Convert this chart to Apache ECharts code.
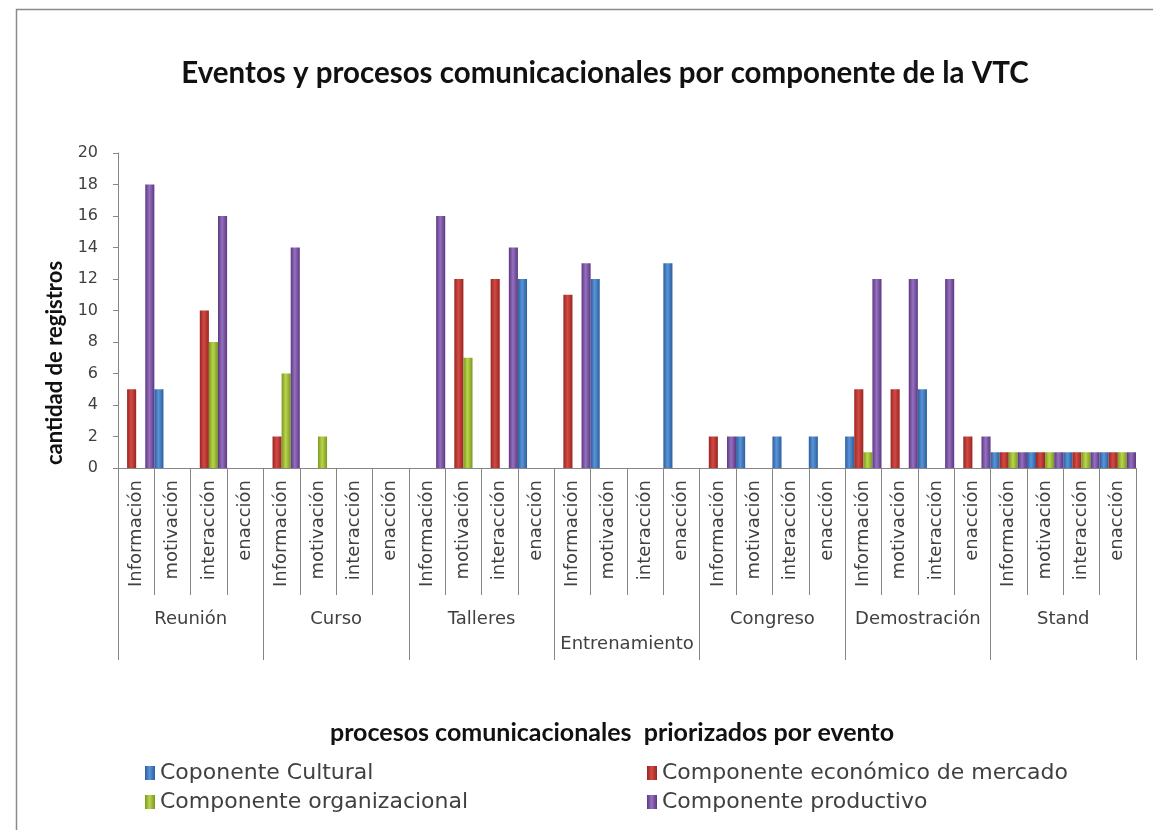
<!DOCTYPE html>
<html>
<head>
<meta charset="utf-8">
<script src="https://cdn.jsdelivr.net/npm/echarts@6/dist/echarts.min.js"></script>
<style>html,body{margin:0;padding:0;background:#fff}#c{width:1153px;height:830px}</style>
</head>
<body>
<div id="c"></div>
<script>
// ---- data ----
var eventos = ['Reunión', 'Curso', 'Talleres', 'Entrenamiento', 'Congreso', 'Demostración', 'Stand'];
var procesos = ['Información', 'motivación', 'interacción', 'enacción'];
var yTicks = [0, 2, 4, 6, 8, 10, 12, 14, 16, 18, 20];
var seriesNames = ['Coponente Cultural', 'Componente económico de mercado', 'Componente organizacional', 'Componente productivo'];
// 28 values each: 7 events x 4 processes
var cultural = [0,5,0,0, 0,0,0,0, 0,0,0,12, 0,12,0,13, 0,2,2,2, 2,0,5,0, 1,1,1,1];
var economico = [5,0,10,0, 2,0,0,0, 0,12,12,0, 11,0,0,0, 2,0,0,0, 5,5,0,2, 1,1,1,1];
var organizacional = [0,0,8,0, 6,2,0,0, 0,7,0,0, 0,0,0,0, 0,0,0,0, 1,0,0,0, 1,1,1,1];
var productivo = [18,0,16,0, 14,0,0,0, 16,0,14,0, 13,0,0,0, 2,0,0,0, 12,12,12,2, 1,1,1,1];

var categories = [];
eventos.forEach(function () { procesos.forEach(function (p) { categories.push(p); }); });

function grad(edge, mid) {
  return new echarts.graphic.LinearGradient(0, 0, 1, 0, [
    {offset: 0, color: edge}, {offset: 0.45, color: mid}, {offset: 1, color: edge}
  ]);
}
var styles = [
  grad('#2b5e9e', '#5a94d6'),
  grad('#9a2521', '#d14a44'),
  grad('#7a9820', '#b9d54c'),
  grad('#5c3883', '#9470be')
];
var seriesData = [cultural, economico, organizacional, productivo];

var chart = echarts.init(document.getElementById('c'), null, {renderer: 'canvas'});
var labelColor = '#404040';
var axisColor = '#868686';
var legendText = {fontFamily: 'DejaVu Sans', fontSize: 22, color: labelColor, padding: [0, 0, 0, 0]};

chart.setOption({
  animation: false,
  graphic: [
    {type: 'rect', shape: {x: 16.5, y: 9.5, width: 1160, height: 840}, style: {fill: 'none', stroke: '#8a8a8a', lineWidth: 1.5}, silent: true},
    {type: 'text', x: 605, y: 73, style: {text: 'Eventos y procesos comunicacionales por componente de la VTC', font: 'bold 29.5px Lato', fill: '#111', textAlign: 'center', textVerticalAlign: 'middle'}},
    {type: 'text', x: 55, y: 363, rotation: Math.PI / 2, style: {text: 'cantidad de registros', font: 'bold 22px Lato', fill: '#111', textAlign: 'center', textVerticalAlign: 'middle'}},
    {type: 'text', x: 612, y: 733, style: {text: 'procesos comunicacionales  priorizados por evento', font: 'bold 25px Lato', fill: '#111', textAlign: 'center', textVerticalAlign: 'middle'}}
  ],
  legend: [
    {data: [seriesNames[0], seriesNames[2]], orient: 'vertical', left: 140, top: 757, icon: 'rect', itemWidth: 10, itemHeight: 14, itemGap: 7,
     textStyle: legendText},
    {data: [seriesNames[1], seriesNames[3]], orient: 'vertical', left: 642, top: 757, icon: 'rect', itemWidth: 10, itemHeight: 14, itemGap: 7,
     textStyle: legendText}
  ],
  grid: {left: 118, right: 17, top: 153, bottom: 362, containLabel: false},
  xAxis: [
    {type: 'category', data: categories, position: 'bottom',
     axisLine: {show: true, lineStyle: {color: axisColor}},
     axisTick: {show: true, interval: 0, length: 127, lineStyle: {color: axisColor}},
     axisLabel: {interval: 0, rotate: 90, margin: 12, fontFamily: 'DejaVu Sans', fontSize: 18, color: labelColor}},
    {type: 'category', data: eventos, position: 'bottom',
     axisLine: {show: false},
     axisTick: {show: true, interval: 0, length: 192, lineStyle: {color: axisColor}},
     axisLabel: {interval: 0, margin: 139, fontFamily: 'DejaVu Sans', fontSize: 18, color: labelColor, lineHeight: 25,
       formatter: function (v) { return v === 'Entrenamiento' ? '\n' + v : v; }}}
  ],
  yAxis: {type: 'value', min: yTicks[0], max: yTicks[yTicks.length - 1], interval: yTicks[1] - yTicks[0],
    axisLine: {show: true, lineStyle: {color: axisColor}},
    axisTick: {show: true, length: 5, lineStyle: {color: axisColor}},
    splitLine: {show: false},
    axisLabel: {margin: 20, fontFamily: 'DejaVu Sans', fontSize: 16, color: labelColor}},
  series: seriesData.map(function (d, i) {
    return {name: seriesNames[i], type: 'bar', xAxisIndex: 0, data: d, barGap: '0%', barCategoryGap: '0%',
      itemStyle: {color: styles[i]}};
  })
});
</script>
</body>
</html>
